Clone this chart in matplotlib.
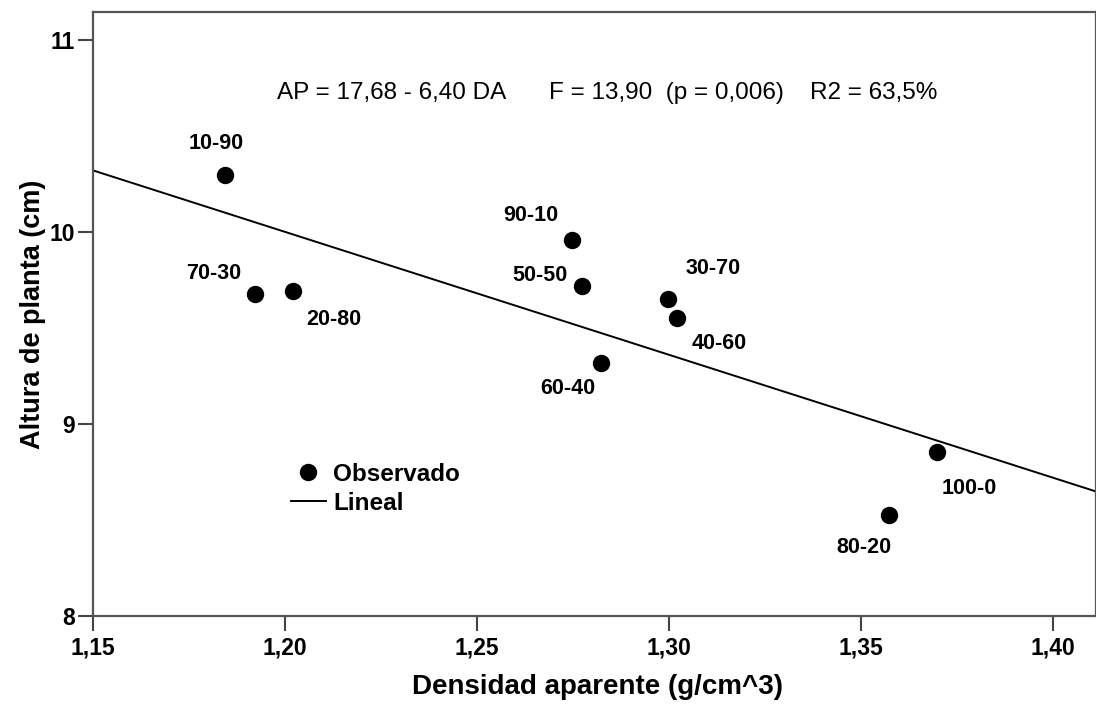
import matplotlib
matplotlib.use('Agg')
import matplotlib.pyplot as plt
import numpy as np

# Observed points (Densidad aparente, Altura de planta) and their mix labels
labels = ['10-90', '70-30', '20-80', '90-10', '50-50', '30-70', '40-60', '60-40', '100-0', '80-20']
densidad = [1.1844, 1.1922, 1.2021, 1.2747, 1.2773, 1.2997, 1.3021, 1.2823, 1.3698, 1.3573]
altura = [10.294, 9.677, 9.692, 9.957, 9.718, 9.651, 9.552, 9.319, 8.852, 8.525]

# Fitted line AP = 17,68 - 6,40 DA
intercept = 17.68
slope = -6.40

xTicks = [1.15, 1.20, 1.25, 1.30, 1.35, 1.40]
yTicks = [8, 9, 10, 11]

# label offsets in pixels (dx, dy) from each point
offsets = [(-9, 32), (-41, 20), (41, -28), (-41, 25), (-42, 11),
           (45, 30), (42, -26), (-33, -26), (32, -36), (-25, -32)]

plt.rcParams['font.family'] = ['Liberation Sans', 'DejaVu Sans']

fig = plt.figure(figsize=[10.96, 7.04], dpi=100)
ax = fig.add_axes([0.0849, 0.125, 0.9151, 0.858])

xMin, xMax = 1.15, 1.4112
ax.set_xlim(xMin, xMax)
ax.set_ylim(8, 11.145)

# regression line across the whole x range
lineX = np.array([xMin, xMax])
ax.plot(lineX, intercept + slope * lineX, color='black', lw=1.4, label='Lineal', zorder=2)

# observed points
ax.plot(densidad, altura, 'o', color='black', ms=11.5, label='Observado', zorder=3)

for i in range(len(labels)):
	ax.annotate(labels[i], (densidad[i], altura[i]), xytext=offsets[i], textcoords='offset pixels',
		ha='center', va='center', fontsize=15.5, fontweight='bold')

# equation and stats
ax.text(0.1835, 0.866, 'AP = 17,68 - 6,40 DA', transform=ax.transAxes, fontsize=17.5, va='center')
ax.text(0.4547, 0.866, 'F = 13,90  (p = 0,006)', transform=ax.transAxes, fontsize=17.5, va='center')
ax.text(0.7149, 0.866, 'R2 = 63,5%', transform=ax.transAxes, fontsize=17.5, va='center')

# ticks with comma decimal
ax.set_xticks(xTicks)
ax.set_xticklabels([('%.2f' % t).replace('.', ',') for t in xTicks])
ax.set_yticks(yTicks)
ax.set_yticklabels([str(t) for t in yTicks])
ax.tick_params(axis='both', direction='out', length=11, width=1.5, color='#444444',
	labelsize=16.5)
ax.tick_params(axis='x', pad=4)
ax.tick_params(axis='y', pad=2)
for lbl in ax.get_xticklabels() + ax.get_yticklabels():
	lbl.set_fontweight('bold')

for s in ax.spines.values():
	s.set_color('#555555')
	s.set_linewidth(1.6)

# Naming Axes
ax.set_xlabel('Densidad aparente (g/cm^3)', fontsize=20, fontweight='bold', va='center')
ax.set_ylabel('Altura de planta (cm)', fontsize=19.5, fontweight='bold', va='center')
ax.xaxis.set_label_coords(0.503, -0.117)
ax.yaxis.set_label_coords(-0.0598, 0.5)

# legend without frame
handles, names = ax.get_legend_handles_labels()
ax.legend(handles[::-1], names[::-1], loc='center left', bbox_to_anchor=(0.197, 0.211),
	frameon=False, borderpad=0, borderaxespad=0, handlelength=1.45, handletextpad=0.3,
	labelspacing=0.25, prop={'weight': 'bold', 'size': 17.5})

plt.savefig('out.png', dpi=100)
